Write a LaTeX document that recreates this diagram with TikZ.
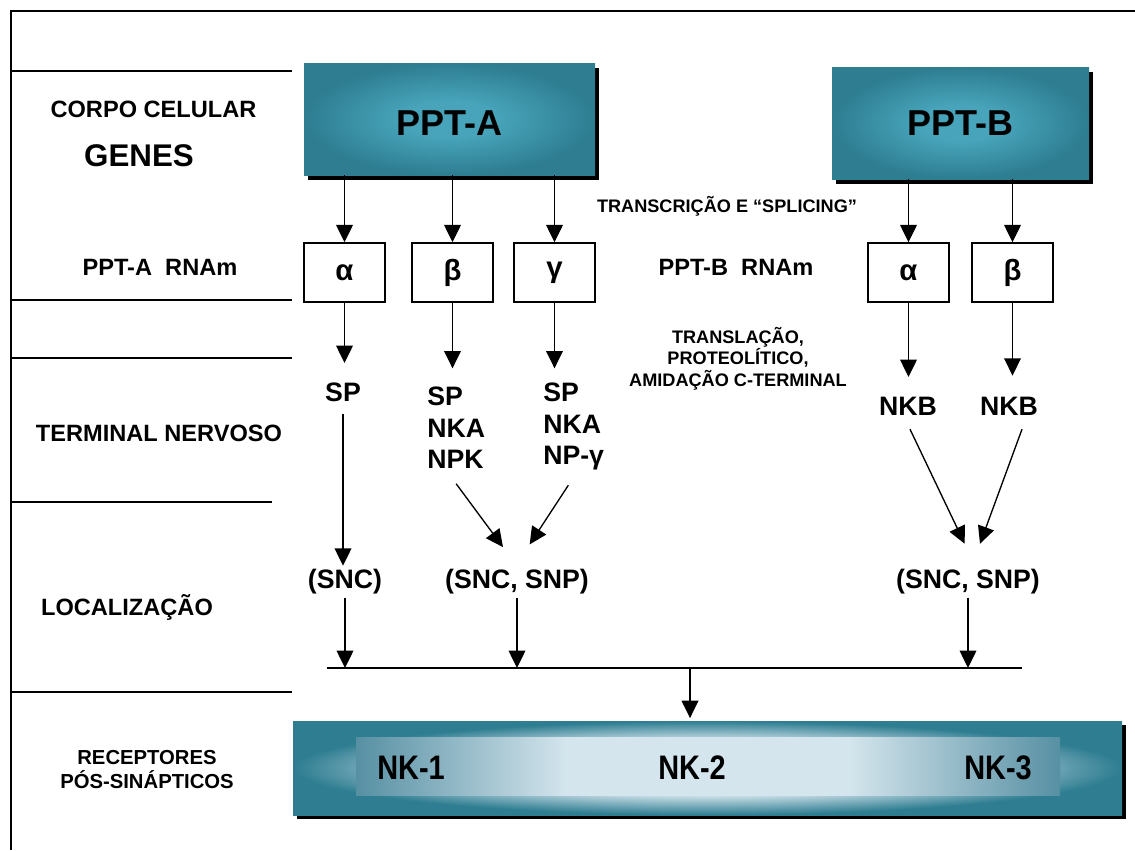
\documentclass[tikz,border=0pt]{standalone}
\usepackage{fontspec}
\setmainfont{Liberation Sans}
\newfontfamily\narrowfont[FakeStretch=0.85]{Liberation Sans}
\usetikzlibrary{arrows.meta,shadows}

\definecolor{tealdark}{HTML}{2E7D91}
\definecolor{teallight}{HTML}{47A4BA}
\definecolor{barlight}{HTML}{D4E5ED}
\definecolor{barmid}{HTML}{5790A3}

\pgfdeclareradialshading{boxglow}{\pgfpoint{0bp}{0bp}}{color(0bp)=(teallight); color(8bp)=(teallight); color(25bp)=(tealdark); color(50bp)=(tealdark)}
\pgfdeclareradialshading{barglow}{\pgfpoint{0bp}{0bp}}{color(0bp)=(barlight); color(14bp)=(barlight); color(25bp)=(tealdark); color(50bp)=(tealdark)}
\pgfdeclarehorizontalshading{barinner}{100bp}{color(0bp)=(barmid); color(25bp)=(barmid); color(40bp)=(barlight); color(60bp)=(barlight); color(75bp)=(barmid); color(100bp)=(barmid)}

\tikzset{
  lab/.style={font=\fontsize{17.7}{21}\selectfont\bfseries, inner sep=0pt, anchor=base},
  note/.style={font=\fontsize{13.6}{16.1}\selectfont\bfseries, inner sep=0pt},
  pep/.style={font=\fontsize{20}{23.6}\selectfont\bfseries, inner sep=0pt},
  sep/.style={line width=1.1pt},
  arr/.style={line width=1pt, -{Triangle[length=13pt, width=12.5pt]}},
  pptbox/.style={shading=boxglow, minimum height=84pt, inner sep=0pt,
    font=\fontsize{27}{30}\selectfont\bfseries,
    drop shadow={shadow xshift=3pt, shadow yshift=-3.5pt, opacity=1, fill=black}},
  rnabox/.style={draw, line width=1.1pt, fill=white, minimum width=60.75pt,
    minimum height=44.25pt, inner sep=0pt, font=\fontsize{22}{24}\selectfont\bfseries},
  nk/.style={font=\fontsize{25.5}{28}\selectfont\narrowfont\bfseries, inner sep=0pt, anchor=base}
}

\begin{document}
\begin{tikzpicture}[x=0.75pt, y=-0.75pt]
  \useasboundingbox (0,0) rectangle (1135,850);
  % frame and row lines
  \draw[line width=2pt] (11,850) -- (11,11) -- (1135,11);
  \foreach \y/\e in {71/292, 300/292, 358/292, 502/272, 692/292}
    \draw[sep] (11,\y) -- (\e,\y);
  % row labels
  \node[lab] (corpo) at (153.5,117) {CORPO CELULAR};
  \node[lab, font=\fontsize{23.5}{26}\selectfont\bfseries] (genes) at (139,166) {GENES};
  \node[lab] (rnaA) at (160,275) {PPT-A~~RNAm};
  \node[lab] (term) at (159,441) {TERMINAL NERVOSO};
  \node[lab] (local) at (127,615) {LOCALIZAÇÃO};
  \node[note, font=\fontsize{15.2}{18}\selectfont\bfseries, align=center, anchor=north] (recep)
    at (147,750) {RECEPTORES\\PÓS-SINÁPTICOS};
  % genes
  \node[pptbox, minimum width=218.25pt, text height=24pt, text depth=0pt] (ppta) at (449.5,119) {PPT-A};
  \node[pptbox, minimum width=192.75pt] (pptb) at (960.5,123) {PPT-B};
  \node[note, anchor=base] (transc) at (727,212) {TRANSCRIÇÃO E “SPLICING”};
  \node[lab] (rnaB) at (736,275) {PPT-B~~RNAm};
  \node[note, align=center, anchor=north] (transl) at (738,327)
    {TRANSLAÇÃO,\\PROTEOLÍTICO,\\AMIDAÇÃO C-TERMINAL};
  % mRNA boxes
  \node[rnabox] (aA) at (344.5,272.5) {α};
  \node[rnabox] (bA) at (452.5,272.5) {β};
  \node[rnabox] (gA) at (554.5,272.5) {γ};
  \node[rnabox] (aB) at (908.5,272.5) {α};
  \node[rnabox] (bB) at (1012.5,272.5) {β};
  \foreach \n in {aA,bA,gA}
    \draw[arr] (ppta.south -| \n) -- (\n);
  \foreach \n in {aB,bB}
    \draw[arr] (pptb.south -| \n) -- (\n);
  % peptides
  \node[pep, anchor=north] (spA) at (343,383) {SP};
  \node[pep, align=left, anchor=north west] (pepB) at (427,387) {SP\\NKA\\NPK};
  \node[pep, align=left, anchor=north west] (pepC) at (543,383) {SP\\NKA\\NP-γ};
  \node[pep, anchor=north] (nkbA) at (908,397) {NKB};
  \node[pep, anchor=north] (nkbB) at (1009,397) {NKB};
  \draw[arr, shorten >=15pt] (aA) -- (aA.south |- spA.north);
  \draw[arr, shorten >=14pt] (bA) -- (bA.south |- pepB.north);
  \draw[arr, shorten >=11pt] (gA) -- (gA.south |- pepC.north);
  \draw[arr, shorten >=15pt] (aB) -- (aB.south |- nkbA.north);
  \draw[arr, shorten >=16pt] (bB) -- (bB.south |- nkbB.north);
  % localization
  \node[pep, anchor=base] (sncA) at (345,588) {(SNC)};
  \node[pep, anchor=base] (sncB) at (517,588) {(SNC, SNP)};
  \node[pep, anchor=base] (sncC) at (968,588) {(SNC, SNP)};
  \draw[arr, shorten <=9pt, shorten >=2pt] (spA.south) -- (spA.south |- sncA.north);
  \draw[arr] ([yshift=-11pt]pepB.south) -- ([xshift=-10.5pt, yshift=16pt]sncB.north);
  \draw[arr] ([xshift=-4pt, yshift=-11pt]pepC.south) -- ([xshift=9.5pt, yshift=18pt]sncB.north);
  \draw[arr] ([xshift=1.5pt, yshift=-10pt]nkbA.south) -- ([xshift=-2.5pt, yshift=18.5pt]sncC.north);
  \draw[arr] ([xshift=9.75pt, yshift=-10pt]nkbB.south) -- ([xshift=9pt, yshift=18.5pt]sncC.north);
  % collecting line
  \coordinate (jl) at (327,668);
  \coordinate (jr) at (1022,668);
  \coordinate (jm) at (690,668);
  \draw[line width=1pt] (jl) -- (jr);
  \foreach \n in {sncA,sncB,sncC}
    \draw[arr, shorten <=3pt] (\n) -- (\n |- jl);
  % receptors
  \node[shading=barglow, minimum width=621.75pt, minimum height=70.5pt, inner sep=0pt,
    drop shadow={shadow xshift=3pt, shadow yshift=-3pt, opacity=1, fill=black}] (bar) at (707.5,768) {};
  \node[shading=barinner, minimum width=528pt, minimum height=43.5pt, inner sep=0pt] (barin) at (708,766) {};
  \draw[arr, shorten >=2pt] (jm) -- (jm |- bar.north);
  \node[nk] (nk1) at (411,779) {NK-1};
  \node[nk] (nk2) at (692,779) {NK-2};
  \node[nk] (nk3) at (998,779) {NK-3};
\end{tikzpicture}
\end{document}
